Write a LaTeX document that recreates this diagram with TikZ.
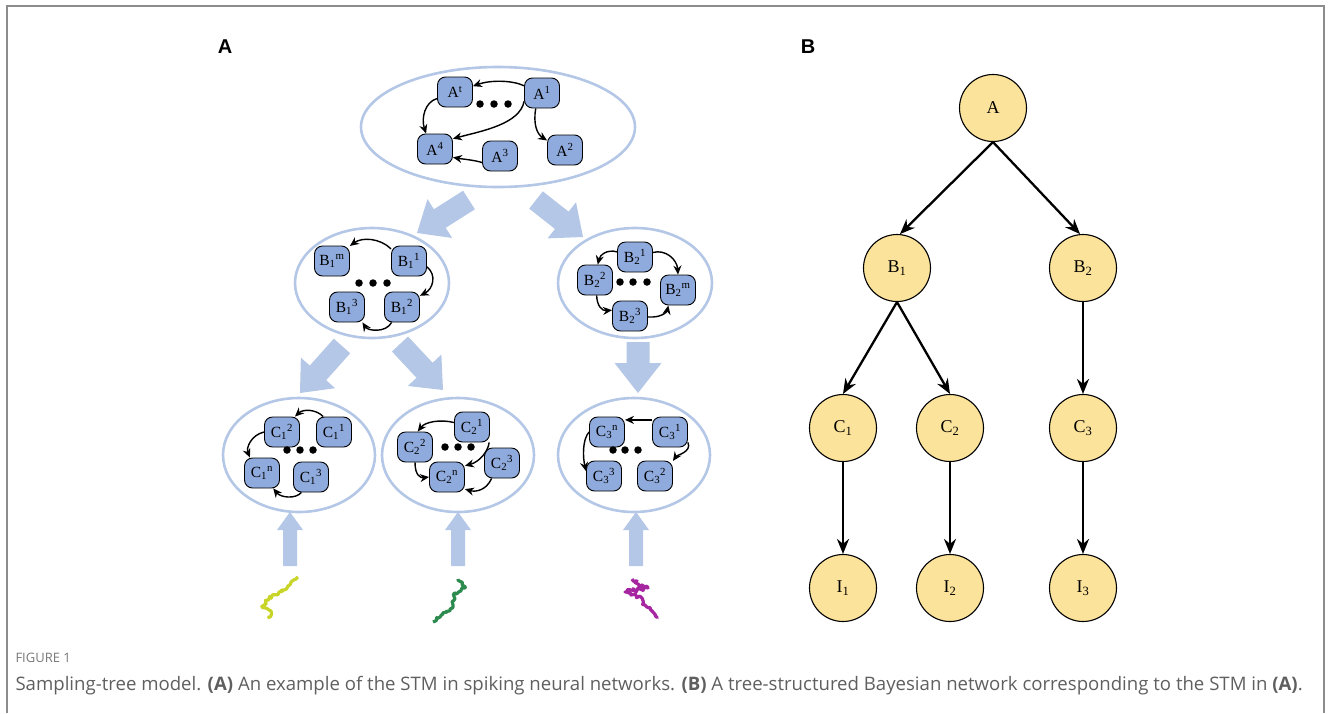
\documentclass[tikz,border=0pt]{standalone}
\usepackage{fontspec}
\setmainfont{Liberation Serif}
\newfontfamily\capfont{Open Sans}
\newfontfamily\labfont{Liberation Sans}
\usetikzlibrary{arrows.meta,shapes.geometric,calc,decorations.pathmorphing}

\definecolor{cellblue}{RGB}{143,170,220}
\definecolor{paleblue}{RGB}{180,199,231}
\definecolor{bnyellow}{RGB}{252,227,155}
\definecolor{framegray}{RGB}{140,140,140}
\definecolor{captext}{RGB}{95,95,95}
\definecolor{figtag}{RGB}{120,120,120}
\definecolor{spikeyellow}{RGB}{200,212,40}
\definecolor{spikegreen}{RGB}{46,139,80}
\definecolor{spikemagenta}{RGB}{165,38,160}

\tikzset{
  cell/.style={draw=black, line width=0.9pt, fill=cellblue, rounded corners=8pt,
    minimum width=35pt, minimum height=30pt, inner sep=0pt,
    font=\fontsize{15.5}{15.5}\selectfont},
  link/.style={line width=1.4pt, -{Stealth[length=9pt,width=8pt]}},
  pool/.style={ellipse, draw=paleblue, line width=2.6pt, inner sep=0pt},
  bigarrow/.style={fill=paleblue},
  bn/.style={circle, draw=black, line width=1.1pt, fill=bnyellow, minimum size=67pt,
    inner sep=0pt, font=\fontsize{18}{18}\selectfont},
  bnedge/.style={line width=2.3pt, -{Stealth[length=15pt,width=12pt]}},
  dotmark/.style={circle, fill=black, inner sep=0pt, minimum size=7.5pt},
  trace/.style={line width=3.2pt, line join=round, decorate,
    decoration={random steps, segment length=2pt, amplitude=2pt}},
  panel/.style={font=\labfont\bfseries\fontsize{20}{20}\selectfont}
}

% block arrow: tail, tip, half shaft width, half head width, head length
\newcommand\blockarrow[5]{%
  \path ($(#2)!#5!(#1)$) coordinate (hb);
  \fill[bigarrow] ($(#1)!#3!90:(#2)$) -- ($(hb)!#3!90:(#2)$) -- ($(hb)!#4!90:(#2)$)
    -- (#2) -- ($(hb)!#4!-90:(#2)$) -- ($(hb)!#3!-90:(#2)$) -- ($(#1)!#3!-90:(#2)$) -- cycle;
}

\begin{document}
\begin{tikzpicture}[x=1pt,y=-1pt]
\useasboundingbox (0,0) rectangle (1330,713);

% outer frame
\draw[framegray, line width=1.4pt] (7,713) -- (7,6) -- (1324,6) -- (1324,713);

% panel letters
\node[panel] (labA) at (225,47) {A};
\node[panel] (labB) at (808,47) {B};

% ---------- panel A : pools of neurons ----------
\node[pool, minimum width=274pt, minimum height=120pt] (PA) at (498,127) {};
\node[pool, minimum width=154pt, minimum height=110pt] (PB1) at (372,283) {};
\node[pool, minimum width=154pt, minimum height=110pt] (PB2) at (635,283) {};
\node[pool, minimum width=152pt, minimum height=114pt] (PC1) at (299,455) {};
\node[pool, minimum width=152pt, minimum height=114pt] (PC2) at (458,455) {};
\node[pool, minimum width=152pt, minimum height=114pt] (PC3) at (634,455) {};

% top pool
\node[cell] (At) at (455,92) {A\textsuperscript{t}};
\node[cell] (A1) at (542,93) {A\textsuperscript{1}};
\node[cell] (A4) at (435,149) {A\textsuperscript{4}};
\node[cell] (A3) at (500,156) {A\textsuperscript{3}};
\node[cell] (A2) at (565,150) {A\textsuperscript{2}};
\node[dotmark] (ad1) at (480,104) {};
\node[dotmark] (ad2) at (494,104) {};
\node[dotmark] (ad3) at (508,104) {};
\draw[link] (A1.158) .. controls (512,80) and (490,80) .. (At.18);
\draw[link] (A1.205) .. controls (520,124) and (482,131) .. (A4.30);
\draw[link] (At.200) .. controls (425,102) and (421,118) .. (A4.120);
\draw[link] (A3.200) .. controls (474,160) and (462,159) .. (A4.335);
\draw[link] (A1.248) .. controls (533,124) and (537,134) .. (A2.152);

% pool B1
\node[cell] (B1m) at (332,261) {B\textsubscript{1}\textsuperscript{m}};
\node[cell] (B11) at (409,261) {B\textsubscript{1}\textsuperscript{1}};
\node[cell] (B13) at (347,307) {B\textsubscript{1}\textsuperscript{3}};
\node[cell] (B12) at (402,307) {B\textsubscript{1}\textsuperscript{2}};
\node[dotmark] (bd1) at (359,283) {};
\node[dotmark] (bd2) at (373,283) {};
\node[dotmark] (bd3) at (387,283) {};
\draw[link] (B11.146) .. controls (380,238) and (362,237) .. (B1m.40);
\draw[link] (B11.342) .. controls (437,275) and (433,289) .. (B12.32);
\draw[link] (B12.236) .. controls (386,333) and (368,331) .. (B13.315);

% pool B2
\node[cell] (B21) at (635,257) {B\textsubscript{2}\textsuperscript{1}};
\node[cell] (B22) at (595,280) {B\textsubscript{2}\textsuperscript{2}};
\node[cell] (B2m) at (678,290) {B\textsubscript{2}\textsuperscript{m}};
\node[cell] (B23) at (630,316) {B\textsubscript{2}\textsuperscript{3}};
\node[dotmark] (bd4) at (620,282) {};
\node[dotmark] (bd5) at (633,282) {};
\node[dotmark] (bd6) at (647,282) {};
\draw[link] (B21.164) .. controls (607,249) and (600,255) .. (B22.80);
\draw[link] (B21.14) .. controls (665,249) and (677,259) .. (B2m.north);
\draw[link] (B22.276) .. controls (597,306) and (602,311) .. (B23.162);
\draw[link] (B23.357) .. controls (661,318) and (667,312) .. (B2m.238);

% pool C1
\node[cell] (C12) at (282,432) {C\textsubscript{1}\textsuperscript{2}};
\node[cell] (C11) at (334,432) {C\textsubscript{1}\textsuperscript{1}};
\node[cell] (C1n) at (262,473) {C\textsubscript{1}\textsuperscript{n}};
\node[cell] (C13) at (311,477) {C\textsubscript{1}\textsuperscript{3}};
\node[dotmark] (cd1) at (287,450) {};
\node[dotmark] (cd2) at (300,450) {};
\node[dotmark] (cd3) at (313,450) {};
\draw[link] (C11.125) .. controls (316,409) and (303,409) .. (C12.50);
\draw[link] (C12.west) .. controls (251,435) and (246,448) .. (C1n.128);
\draw[link] (C13.238) .. controls (296,499) and (281,498) .. (C1n.306);

% pool C2
\node[cell] (C21) at (472,427) {C\textsubscript{2}\textsuperscript{1}};
\node[cell] (C22) at (415,447) {C\textsubscript{2}\textsuperscript{2}};
\node[cell] (C2n) at (447,477) {C\textsubscript{2}\textsuperscript{n}};
\node[cell] (C23) at (502,463) {C\textsubscript{2}\textsuperscript{3}};
\node[dotmark] (cd4) at (445,447) {};
\node[dotmark] (cd5) at (458,447) {};
\node[dotmark] (cd6) at (471,447) {};
\draw[link] (C21.166) .. controls (440,419) and (425,422) .. (C22.80);
\draw[link] (C21.318) .. controls (488,452) and (479,462) .. (C2n.32);
\draw[link] (C22.270) .. controls (415,476) and (421,478) .. (C2n.west);
\draw[link] (C23.236) .. controls (486,491) and (475,492) .. (C2n.326);

% pool C3
\node[cell] (C3n) at (607,432) {C\textsubscript{3}\textsuperscript{n}};
\node[cell] (C31) at (670,432) {C\textsubscript{3}\textsuperscript{1}};
\node[cell] (C33) at (604,476) {C\textsubscript{3}\textsuperscript{3}};
\node[cell] (C32) at (655,476) {C\textsubscript{3}\textsuperscript{2}};
\node[dotmark] (cd7) at (613,450) {};
\node[dotmark] (cd8) at (625,450) {};
\node[dotmark] (cd9) at (638,450) {};
\draw[link] (C31.146) -- (C3n.34);
\draw[link] (C31.330) .. controls (692,452) and (677,455) .. (C32.40);
\draw[link] (C3n.west) .. controls (582,440) and (583,458) .. (C33.165);

% block arrows between pools
\coordinate (tAB1) at (469,200); \coordinate (hAB1) at (417,233);
\coordinate (tAB2) at (536,200); \coordinate (hAB2) at (583,237);
\coordinate (tBC1) at (342,346); \coordinate (hBC1) at (300,393);
\coordinate (tBC2) at (400,344); \coordinate (hBC2) at (443,390);
\coordinate (tBC3) at (638,342); \coordinate (hBC3) at (638,393);
\blockarrow{tAB1}{hAB1}{11pt}{23pt}{27pt}
\blockarrow{tAB2}{hAB2}{11pt}{23pt}{27pt}
\blockarrow{tBC1}{hBC1}{11pt}{23pt}{27pt}
\blockarrow{tBC2}{hBC2}{11pt}{23pt}{27pt}
\blockarrow{tBC3}{hBC3}{11.5pt}{23.5pt}{30pt}

% input arrows
\coordinate (tI1) at (290,566); \coordinate (hI1) at (290,512);
\coordinate (tI2) at (458,566); \coordinate (hI2) at (458,512);
\coordinate (tI3) at (636,566); \coordinate (hI3) at (636,512);
\blockarrow{tI1}{hI1}{7pt}{13pt}{18pt}
\blockarrow{tI2}{hI2}{7pt}{13pt}{18pt}
\blockarrow{tI3}{hI3}{7pt}{13pt}{18pt}

% spike traces
\pgfmathsetseed{11}
\draw[trace, spikeyellow] (298,577) -- (288,586) -- (279,592) -- (266,601) -- (263,608) -- (271,611) -- (270,618);
\draw[trace, spikegreen] (458,579) -- (465,588) -- (455,593) -- (453,605) -- (447,612) -- (440,617) -- (433,622);
\draw[trace, spikemagenta] (632,579) -- (642,585) -- (648,588) -- (625,592) -- (642,598) -- (645,605) -- (653,612) -- (657,618);

% ---------- panel B : Bayesian network ----------
\node[bn] (A) at (993,108) {A};
\node[bn] (B1) at (897,268) {B\textsubscript{1}};
\node[bn] (B2) at (1083,268) {B\textsubscript{2}};
\node[bn] (C1) at (843,428) {C\textsubscript{1}};
\node[bn] (C2) at (950,428) {C\textsubscript{2}};
\node[bn] (C3) at (1083,428) {C\textsubscript{3}};
\node[bn] (I1) at (843,588) {I\textsubscript{1}};
\node[bn] (I2) at (950,588) {I\textsubscript{2}};
\node[bn] (I3) at (1083,588) {I\textsubscript{3}};
\draw[bnedge] (A.south) -- (B1.85);
\draw[bnedge] (A.south) -- (B2.95);
\draw[bnedge] (B1.south) -- (C1.north);
\draw[bnedge] (B1.south) -- (C2.north);
\draw[bnedge] (B2.south) -- (C3.north);
\draw[bnedge] (C1.south) -- (I1.north);
\draw[bnedge] (C2.south) -- (I2.north);
\draw[bnedge] (C3.south) -- (I3.north);

% caption
\node[anchor=base west, text=figtag, font=\capfont\fontsize{13}{13}\selectfont] (figno) at (12,662) {FIGURE 1};
\node[anchor=base west, text=captext, font=\capfont\fontsize{18.6}{18.6}\selectfont] (figcap) at (12,690)
  {Sampling-tree model. \textbf{(A)} An example of the STM in spiking neural networks. \textbf{(B)} A tree-structured Bayesian network corresponding to the STM in \textbf{(A)}.};
\end{tikzpicture}
\end{document}
